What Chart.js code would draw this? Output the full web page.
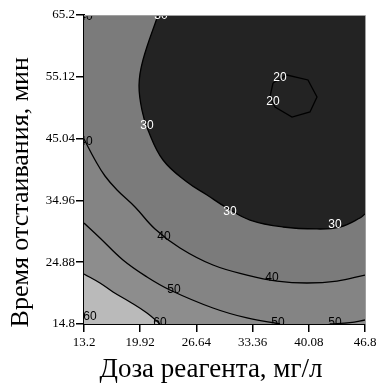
<!DOCTYPE html>
<html>
<head>
<meta charset="utf-8">
<script src="https://cdn.jsdelivr.net/npm/chart.js@4"></script>
<style>
  body { margin: 0; background: #fff; }
  canvas { display: block; }
</style>
</head>
<body>
<canvas id="chart" width="380" height="389"></canvas>
<script>
// axis ticks
const xTicks = [13.2, 19.92, 26.64, 33.36, 40.08, 46.8];
const xTickLabels = ["13.2", "19.92", "26.64", "33.36", "40.08", "46.8"];
const yTicks = [14.8, 24.88, 34.96, 45.04, 55.12, 65.2];
const yTickLabels = ["14.8", "24.88", "34.96", "45.04", "55.12", "65.2"];

// contour lines (dose mg/l, time min)
const c20x = [35.8, 37.47, 39.98, 41.06, 40.22, 38.07, 36.04, 35.44, 35.8];
const c20y = [54.11, 55.41, 54.6, 51.83, 49.38, 48.56, 50.2, 51.83, 54.11];
const c30x = [22.05, 20.25, 19.78, 20.13, 20.85, 22.65, 25.52, 27.91, 30.3, 33.05, 36.99, 41.06, 43.81, 46.2, 46.8];
const c30y = [65.2, 57.86, 53.78, 49.7, 46.44, 41.55, 37.96, 35.84, 33.72, 31.76, 30.62, 30.3, 30.62, 32.09, 32.74];
const c40x = [13.2, 14.52, 15.71, 17.15, 19.3, 21.69, 24.68, 28.62, 32.69, 36.28, 39.86, 43.45, 46.8];
const c40y = [44.98, 41.55, 38.94, 36.66, 33.88, 30.3, 27.2, 24.42, 22.79, 21.81, 21.49, 21.81, 22.79];
const c50ax = [13.2, 15.11, 17.86, 20.73, 23.48, 28.62, 32.69, 36.64];
const c50ay = [31.27, 28.83, 25.24, 22.47, 20.35, 17.41, 15.78, 14.8];
const c50bx = [42.61, 45.0, 46.8];
const c50by = [14.8, 15.04, 15.45];
const c60x = [13.2, 15.11, 16.67, 18.7, 20.73, 22.29];
const c60y = [22.96, 21.49, 20.02, 18.39, 16.59, 14.8];

// contour labels
const labelText = ["30", "40", "30", "20", "20", "40", "30", "30", "40", "40", "50", "50", "50", "60", "60"];
const labelX = [22.41, 13.44, 20.73, 36.64, 35.8, 13.44, 30.66, 43.21, 22.77, 35.68, 23.96, 36.4, 43.21, 22.29, 13.92];
const labelY = [65.1, 65.0, 47.1, 54.93, 51.01, 44.49, 33.07, 30.95, 28.99, 22.3, 20.35, 15.0, 15.0, 15.0, 15.94];

const pts = (xs, ys) => xs.map((x, i) => ({ x: x, y: ys[i] }));

function line(xs, ys, fillTo, fillColor, tension) {
    return {
        data: pts(xs, ys),
        showLine: true,
        borderColor: "#000",
        borderWidth: 1.3,
        pointRadius: 0,
        tension: tension,
        fill: false,
        fillTo: fillTo,
        fillColor: fillColor,
    };
}

const datasets = [
    line(c30x, c30y, "top", "#232323", 0.4),
    line(c20x, c20y, null, null, 0),
    line(c60x, c60y, "bottom", "#bababa", 0.4),
    line(c50bx, c50by, "bottom", "#8d8d8d", 0.4),
    line(c50ax, c50ay, "bottom", "#8d8d8d", 0.4),
    line(c40x, c40y, "bottom", "#848484", 0.4),
];

// fill the bands under the contour lines, back to front
const bands = {
    id: "bands",
    beforeDatasetsDraw(chart) {
        const { ctx, chartArea: a } = chart;
        ctx.save();
        ctx.beginPath();
        ctx.rect(a.left, a.top, a.right - a.left, a.bottom - a.top);
        ctx.clip();
        ctx.fillStyle = "#7b7b7b";
        ctx.fillRect(a.left, a.top, a.right - a.left, a.bottom - a.top);
        for (let i = chart.data.datasets.length - 1; i >= 0; i--) {
            const ds = chart.data.datasets[i];
            if (!ds.fillTo) continue;
            const meta = chart.getDatasetMeta(i);
            const el = meta.dataset;
            const p = meta.data;
            el.updateControlPoints(a, "x");
            const yb = ds.fillTo === "top" ? a.top : a.bottom;
            ctx.beginPath();
            el.path(ctx);
            ctx.lineTo(p[p.length - 1].x, yb);
            ctx.lineTo(p[0].x, yb);
            ctx.closePath();
            ctx.fillStyle = ds.fillColor;
            ctx.fill();
        }
        ctx.restore();
    },
    afterDatasetsDraw(chart) {
        const { ctx, chartArea: a, scales } = chart;
        ctx.save();
        ctx.beginPath();
        ctx.rect(a.left, a.top, a.right - a.left, a.bottom - a.top);
        ctx.clip();
        ctx.font = "12px 'Liberation Sans'";
        ctx.textAlign = "center";
        ctx.textBaseline = "middle";
        labelText.forEach((t, i) => {
            ctx.fillStyle = Number(t) <= 30 ? "#fff" : "#000";
            ctx.fillText(t, scales.x.getPixelForValue(labelX[i]), scales.y.getPixelForValue(labelY[i]));
        });
        ctx.restore();
        // top and right frame
        ctx.save();
        ctx.strokeStyle = "#a0a0a0";
        ctx.lineWidth = 1;
        ctx.beginPath();
        ctx.moveTo(a.left, a.top + 0.5);
        ctx.lineTo(a.right + 0.5, a.top + 0.5);
        ctx.lineTo(a.right + 0.5, a.bottom);
        ctx.stroke();
        ctx.restore();
    },
};

const serif = "'Liberation Serif', 'Times New Roman', serif";

new Chart(document.getElementById("chart"), {
    type: "scatter",
    data: { datasets: datasets },
    plugins: [bands],
    options: {
        responsive: false,
        animation: false,
        layout: { padding: { top: 15, right: 15, left: 0, bottom: 0 } },
        plugins: { legend: { display: false }, tooltip: { enabled: false } },
        scales: {
            x: {
                type: "linear",
                min: 13.2,
                max: 46.8,
                afterBuildTicks: (s) => { s.ticks = xTicks.map((v) => ({ value: v })); },
                afterFit: (s) => { s.height = 65; },
                ticks: {
                    callback: (v, i) => xTickLabels[i],
                    font: { family: serif, size: 13 },
                    color: "#000",
                    padding: 3,
                    maxRotation: 0,
                    autoSkip: false,
                },
                grid: { drawOnChartArea: false, tickLength: 8, color: "#000", lineWidth: 1.5 },
                border: { color: "#000", width: 2 },
                title: {
                    display: true,
                    // trailing spaces nudge the centred title left, as in the original
                    text: "Доза реагента, мг/л    ",
                    font: { family: serif, size: 27 },
                    color: "#000",
                    padding: { top: 0, bottom: 3 },
                },
            },
            y: {
                type: "linear",
                min: 14.8,
                max: 65.2,
                afterBuildTicks: (s) => { s.ticks = yTicks.map((v) => ({ value: v })); },
                afterFit: (s) => { s.width = 84; },
                ticks: {
                    callback: (v, i) => yTickLabels[i],
                    font: { family: serif, size: 13 },
                    color: "#000",
                    padding: 1,
                    autoSkip: false,
                },
                grid: { drawOnChartArea: false, tickLength: 8, color: "#000", lineWidth: 1.5 },
                border: { color: "#000", width: 2 },
                title: {
                    display: true,
                    // trailing spaces shift it down towards the bottom, as in the original
                    text: "Время отстаивания, мин       ",
                    font: { family: serif, size: 26 },
                    color: "#000",
                    padding: { top: 6, bottom: 0 },
                },
            },
        },
    },
});
</script>
</body>
</html>
